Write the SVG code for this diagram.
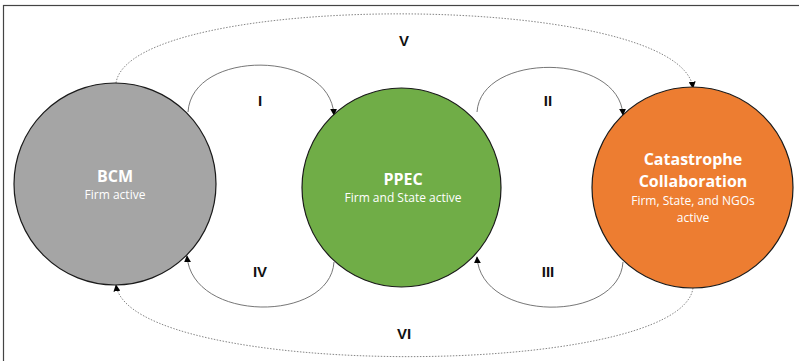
<svg xmlns="http://www.w3.org/2000/svg" width="799" height="361" viewBox="0 0 799 361">
<style>
.node{stroke:#1a1a1a;stroke-width:1.2}
.t1{font-family:"Open Sans","Liberation Sans",sans-serif;font-weight:bold;font-size:16px;fill:#fff;text-anchor:middle}
.t2{font-family:"Open Sans","Liberation Sans",sans-serif;font-size:12px;fill:#fff;text-anchor:middle}
.lab{font-family:"Liberation Sans",sans-serif;font-weight:bold;font-size:15px;fill:#111;text-anchor:middle}
.c{fill:none;stroke:#666;stroke-width:0.9}
.d{fill:none;stroke:#777;stroke-width:0.9;stroke-dasharray:1.5 1.5}
</style>
<defs>
<marker id="ah" viewBox="0 0 10 10" refX="9" refY="5" markerWidth="7" markerHeight="7" markerUnits="userSpaceOnUse" orient="auto">
<path d="M0,0 L10,5 L0,10 z" fill="#000"/>
</marker>
</defs>
<rect x="0" y="0" width="799" height="361" fill="#fff"/>
<rect x="3.5" y="5.5" width="800" height="360" fill="none" stroke="#444" stroke-width="1.2"/>
<g id="connectors">
<path class="c" d="M188,112 C192,49 330,49 334,115" marker-end="url(#ah)"/>
<path class="c" d="M477,112 C481,52 619,52 623,115" marker-end="url(#ah)"/>
<path class="c" d="M334,262 C330,323 192,323 187,256" marker-end="url(#ah)"/>
<path class="c" d="M623,262 C619,323 481,323 477,257" marker-end="url(#ah)"/>
<path class="d" d="M116,83 C130,-10 680,-10 693,88" marker-end="url(#ah)"/>
<path class="d" d="M693,288 C680,380 130,380 116,285" marker-end="url(#ah)"/>
<text class="lab" x="404" y="46">V</text>
<text class="lab" x="260" y="106">I</text>
<text class="lab" x="548" y="106">II</text>
<text class="lab" x="260" y="277">IV</text>
<text class="lab" x="548" y="277">III</text>
<text class="lab" x="404" y="339">VI</text>
</g>
<g id="bcm">
<circle class="node" cx="115" cy="184" r="101" fill="#a5a5a5"/>
<text class="t1" x="115" y="182">BCM</text>
<text class="t2" x="115" y="199">Firm active</text>
</g>
<g id="ppec">
<circle class="node" cx="401.5" cy="187.5" r="99.5" fill="#70ad47"/>
<text class="t1" x="403" y="185">PPEC</text>
<text class="t2" x="403" y="202">Firm and State active</text>
</g>
<g id="catastrophe">
<circle class="node" cx="692.5" cy="187.5" r="100.5" fill="#ed7d31"/>
<text class="t1" x="693" y="165">Catastrophe</text>
<text class="t1" x="693" y="187">Collaboration</text>
<text class="t2" x="693" y="205">Firm, State, and NGOs</text>
<text class="t2" x="693" y="222">active</text>
</g>
</svg>
